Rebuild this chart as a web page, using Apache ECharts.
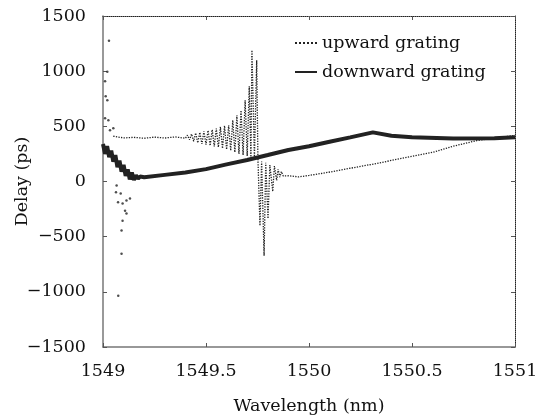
<!DOCTYPE html>
<html>
<head>
<meta charset="utf-8">
<script src="https://cdn.jsdelivr.net/npm/echarts@6/dist/echarts.min.js"></script>
<style>
  html, body { margin: 0; padding: 0; background: #fff; }
  #chart { width: 551px; height: 416px; }
</style>
</head>
<body>
<div id="chart"></div>
<script>
// upward grating: flat, growing ripple, spikes on both sides of the crossing, then slow rise
const upwardLine = [
  [1549.05, 410], [1549.10, 395], [1549.15, 400], [1549.20, 392], [1549.25, 402],
  [1549.30, 394], [1549.35, 404], [1549.40, 392],
  [1549.41, 420], [1549.42, 378], [1549.43, 430], [1549.44, 365], [1549.45, 440],
  [1549.46, 350], [1549.47, 445], [1549.48, 340], [1549.49, 455], [1549.50, 335],
  [1549.51, 462], [1549.52, 325], [1549.53, 470], [1549.54, 318], [1549.55, 480],
  [1549.56, 310], [1549.57, 495], [1549.58, 300], [1549.59, 505], [1549.60, 290],
  [1549.61, 510], [1549.62, 280], [1549.63, 555], [1549.64, 265], [1549.65, 600],
  [1549.66, 250], [1549.67, 645], [1549.68, 240], [1549.69, 736], [1549.70, 230],
  [1549.71, 864], [1549.718, 222], [1549.723, 1190], [1549.735, 212], [1549.746, 1100],
  [1549.752, 215],
  [1549.756, 200], [1549.762, -400], [1549.770, 180], [1549.782, -673], [1549.790, 170],
  [1549.801, -336], [1549.810, 150], [1549.824, -90], [1549.832, 140], [1549.843, 10],
  [1549.850, 110], [1549.858, 40], [1549.866, 90], [1549.875, 50],
  [1549.90, 52], [1549.95, 42], [1550.00, 55], [1550.09, 82], [1550.20, 120],
  [1550.33, 164], [1550.45, 210], [1550.60, 264], [1550.70, 320], [1550.82, 373],
  [1551.00, 418]
];
// stray points of the upward trace near 1549 nm
const upwardDots = [
  [1549.029, 1275], [1549.021, 994], [1549.010, 909], [1549.013, 773], [1549.021, 736],
  [1549.010, 573], [1549.026, 555], [1549.050, 482], [1549.034, 464],
  [1549.066, -36], [1549.063, -97], [1549.086, -109], [1549.073, -188], [1549.095, -200],
  [1549.114, -173], [1549.131, -155], [1549.107, -264], [1549.114, -291],
  [1549.095, -355], [1549.090, -445], [1549.090, -655], [1549.074, -1036]
];
// downward grating: ripple at the start, then nearly linear
const downwardLine = [
  [1549.000, 340], [1549.010, 250], [1549.020, 320], [1549.030, 220], [1549.040, 280],
  [1549.050, 180], [1549.060, 240], [1549.070, 130], [1549.080, 190], [1549.090, 90],
  [1549.100, 150], [1549.110, 50], [1549.120, 110], [1549.130, 20], [1549.140, 80],
  [1549.150, 15], [1549.160, 55], [1549.170, 25], [1549.180, 45], [1549.20, 38],
  [1549.30, 60], [1549.40, 82], [1549.50, 112], [1549.60, 155], [1549.70, 195],
  [1549.75, 218], [1549.80, 240], [1549.90, 285], [1550.00, 320], [1550.10, 360],
  [1550.20, 400], [1550.31, 445], [1550.40, 415], [1550.50, 400], [1550.70, 390],
  [1550.90, 392], [1551.00, 400]
];
const seriesNames = ['upward grating', 'downward grating'];

const font = 'DejaVu Serif';
const fmtMinus = v => String(v).replace('-', '\u2212');

const chart = echarts.init(document.getElementById('chart'));
chart.setOption({
  backgroundColor: '#fff',
  animation: false,
  grid: { left: 103, right: 36, top: 16, bottom: 69, outerBoundsMode: 'none', containLabel: false },
  legend: {
    data: seriesNames,
    orient: 'vertical',
    left: 289,
    top: 29,
    itemWidth: 22,
    itemHeight: 10,
    itemGap: 11,
    itemStyle: { opacity: 0 },
    textStyle: { fontFamily: font, fontSize: 17.5, color: '#111' }
  },
  xAxis: [
    {
      type: 'value', min: 1549, max: 1551, interval: 0.5,
      name: 'Wavelength (nm)', nameLocation: 'middle', nameGap: 50,
      nameTextStyle: { fontFamily: font, fontSize: 17.5, color: '#111' },
      axisLine: { onZero: false, lineStyle: { color: '#777', width: 1.5 } },
      axisTick: { inside: true, length: 4, lineStyle: { color: '#555' } },
      axisLabel: { fontFamily: font, fontSize: 17.5, color: '#111', margin: 15, formatter: v => String(v) },
      splitLine: { show: false }
    },
    {
      type: 'value', min: 1549, max: 1551, interval: 0.5, position: 'top',
      axisLine: { onZero: false, lineStyle: { color: '#222', width: 1, type: 'dotted' } },
      axisTick: { inside: true, length: 4, lineStyle: { color: '#555' } },
      axisLabel: { show: false },
      splitLine: { show: false }
    }
  ],
  yAxis: [
    {
      type: 'value', min: -1500, max: 1500, interval: 500,
      name: 'Delay (ps)', nameLocation: 'middle', nameGap: 72, nameMoveOverlap: false,
      nameTextStyle: { fontFamily: font, fontSize: 17.5, color: '#111' },
      axisLine: { show: true, onZero: false, lineStyle: { color: '#777', width: 1.5 } },
      axisTick: { show: true, inside: true, length: 4, lineStyle: { color: '#555' } },
      axisLabel: { fontFamily: font, fontSize: 17.5, color: '#111', margin: 17, formatter: fmtMinus },
      splitLine: { show: false }
    },
    {
      type: 'value', min: -1500, max: 1500, interval: 500, position: 'right',
      axisLine: { show: true, onZero: false, lineStyle: { color: '#222', width: 1, type: 'dotted' } },
      axisTick: { show: true, inside: true, length: 4, lineStyle: { color: '#555' } },
      axisLabel: { show: false },
      splitLine: { show: false }
    }
  ],
  series: [
    {
      name: seriesNames[0],
      type: 'line',
      data: upwardLine,
      showSymbol: false,
      symbol: 'none',
      itemStyle: { color: '#222' },
      lineStyle: { color: '#222', width: 1.3, type: 'dotted' }
    },
    {
      name: seriesNames[1],
      type: 'line',
      data: downwardLine,
      showSymbol: false,
      symbol: 'none',
      itemStyle: { color: '#222' },
      lineStyle: { color: '#222', width: 4 }
    },
    {
      name: 'upward stray',
      type: 'scatter',
      data: upwardDots,
      symbol: 'circle',
      symbolSize: 2.5,
      itemStyle: { color: '#222' }
    }
  ]
});
</script>
</body>
</html>
